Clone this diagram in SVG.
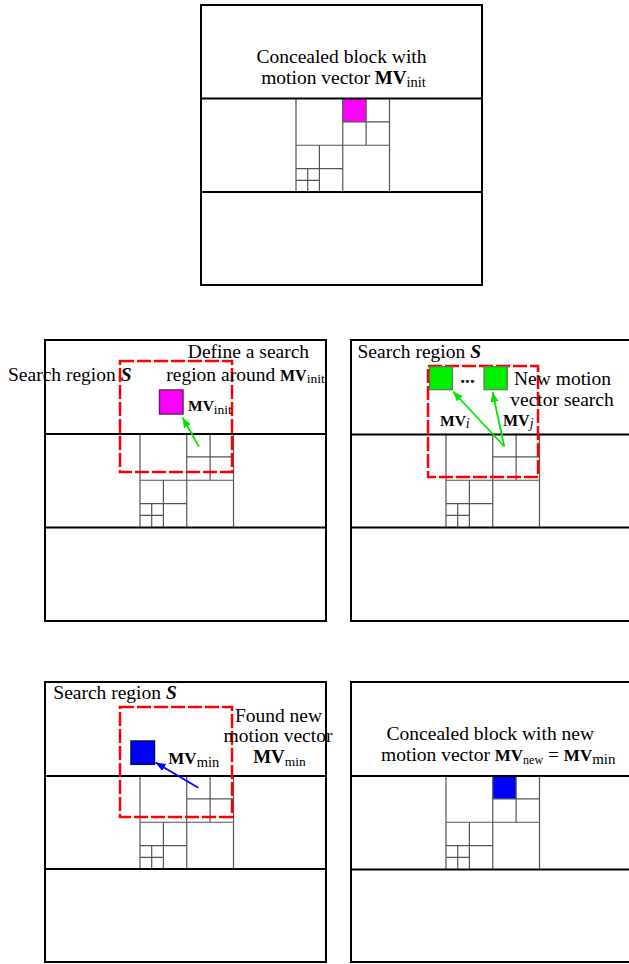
<svg xmlns="http://www.w3.org/2000/svg" xmlns:xlink="http://www.w3.org/1999/xlink" width="629" height="964" viewBox="0 0 629 964">
<style>
.panel{fill:#fff;stroke:#000;stroke-width:2}
.div{stroke:#000;stroke-width:2}
.grid{fill:none;stroke:#555;stroke-width:1.2}
.search{fill:none;stroke:#ff0000;stroke-width:2.5;stroke-dasharray:14 3}
.t{font-family:"Liberation Serif","Times New Roman",serif;font-size:19.5px;fill:#000}
.b{font-weight:bold}
.bi{font-weight:bold;font-style:italic}
.garrow{stroke:#00e600;stroke-width:1.8;fill:none}
.barrow{stroke:#0000ff;stroke-width:1.8;fill:none}
</style>
<defs>
<marker id="ahG" markerUnits="userSpaceOnUse" markerWidth="11" markerHeight="9" refX="10" refY="4" orient="auto">
<path d="M0,0 L10,4 L0,8 z" fill="#00e600"/>
</marker>
<marker id="ahB" markerUnits="userSpaceOnUse" markerWidth="11" markerHeight="9" refX="10" refY="4" orient="auto">
<path d="M0,0 L10,4 L0,8 z" fill="#0000ff"/>
</marker>
<path id="grid" class="grid" d="M0,0 V93.5 M93.5,0 V93.5 M46.75,0 V93.5 M0,46.75 H93.5 M70.1,0 V46.75 M46.75,23.4 H93.5 M23.4,46.75 V93.5 M0,70.1 H46.75 M11.7,70.1 V93.5 M0,81.8 H23.4"/>
</defs>

<!-- Top panel -->
<g id="panel-top">
<rect class="panel" x="201" y="5" width="281" height="280"/>
<rect x="342.75" y="98.5" width="23.4" height="23.4" fill="#ff00ff"/>
<use xlink:href="#grid" x="296" y="98.5"/>
<line class="div" x1="201" y1="98.5" x2="482" y2="98.5"/>
<line class="div" x1="201" y1="192" x2="482" y2="192"/>
<text class="t" text-anchor="middle"><tspan x="341.5" y="63">Concealed block with</tspan><tspan x="343.5" y="84">motion vector <tspan class="b" font-size="19">MV</tspan><tspan font-size="14.5" dy="3">init</tspan></tspan></text>
</g>

<!-- Middle-left panel -->
<g id="panel-ml">
<rect class="panel" x="45" y="340" width="281" height="281"/>
<use xlink:href="#grid" x="140" y="433.5"/>
<line class="div" x1="45" y1="434" x2="326" y2="434"/>
<line class="div" x1="45" y1="527.5" x2="326" y2="527.5"/>
<rect class="search" x="120" y="361" width="112" height="111"/>
<rect x="159.5" y="390" width="23.5" height="24" fill="#ff00ff" stroke="#6a1f6a" stroke-width="1.5"/>
<text class="t" x="8" y="381">Search region <tspan class="bi">S</tspan></text>
<text class="t" text-anchor="middle"><tspan x="248.5" y="357.7">Define a search</tspan><tspan x="245.5" y="380.7">region around <tspan class="b" font-size="16">MV</tspan><tspan font-size="13.5" dy="2.5">init</tspan></tspan></text>
<text class="t" x="188" y="411"><tspan class="b" font-size="15.5">MV</tspan><tspan font-size="13.5" dy="2.5">init</tspan></text>
</g>

<!-- Middle-right panel -->
<g id="panel-mr">
<rect class="panel" x="351" y="340" width="290" height="281"/>
<use xlink:href="#grid" x="446" y="433.5"/>
<line class="div" x1="351" y1="434.5" x2="641" y2="434.5"/>
<line class="div" x1="351" y1="527.5" x2="641" y2="527.5"/>
<rect class="search" x="428" y="366" width="110" height="111"/>
<rect x="429.5" y="366.7" width="23" height="23" fill="#00f000" stroke="#5a7a5a" stroke-width="1.2"/>
<rect x="484" y="366.7" width="23.3" height="23" fill="#00f000" stroke="#5a7a5a" stroke-width="1.2"/>
<text class="t b" x="467.5" y="382.5" text-anchor="middle" font-size="12">...</text>
<text class="t" x="357.5" y="357.7">Search region <tspan class="bi">S</tspan></text>
<text class="t" text-anchor="middle"><tspan x="562.5" y="385">New motion</tspan><tspan x="562" y="406">vector search</tspan></text>
<text class="t" x="440" y="425.7"><tspan class="b" font-size="15.5">MV</tspan><tspan font-size="14" font-style="italic" dy="2.5">i</tspan></text>
<text class="t" x="503" y="425.7"><tspan class="b" font-size="16">MV</tspan><tspan font-size="14" font-style="italic" dy="2.5">j</tspan></text>
</g>

<!-- Bottom-left panel -->
<g id="panel-bl">
<rect class="panel" x="45" y="682" width="281" height="280"/>
<use xlink:href="#grid" x="140" y="775.5"/>
<line class="div" x1="45" y1="776" x2="326" y2="776"/>
<line class="div" x1="45" y1="869" x2="326" y2="869"/>
<rect class="search" x="120" y="707" width="112" height="110"/>
<rect x="131" y="741" width="23.5" height="23.3" fill="#0000ff" stroke="#00105a" stroke-width="1.5"/>
<text class="t" x="53.3" y="699">Search region <tspan class="bi">S</tspan></text>
<text class="t" x="168.3" y="764.3"><tspan class="b" font-size="17">MV</tspan><tspan font-size="14.5" dy="2.5">min</tspan></text>
<text class="t" text-anchor="middle"><tspan x="278.5" y="721.7">Found new</tspan><tspan x="278" y="741.7">motion vector</tspan><tspan x="279.5" y="763.3"><tspan class="b" font-size="19">MV</tspan><tspan font-size="13.5" dy="2.5">min</tspan></tspan></text>
</g>

<!-- Bottom-right panel -->
<g id="panel-br">
<rect class="panel" x="351" y="682" width="290" height="280"/>
<rect x="492.75" y="775.5" width="23.4" height="23.4" fill="#0000ff"/>
<use xlink:href="#grid" x="446" y="775.5"/>
<line class="div" x1="351" y1="776" x2="641" y2="776"/>
<line class="div" x1="351" y1="869.5" x2="641" y2="869.5"/>
<text class="t" text-anchor="middle"><tspan x="490.3" y="740">Concealed block with new</tspan><tspan x="498.3" y="761">motion vector <tspan class="b" font-size="17">MV</tspan><tspan font-size="12" dy="2.5">new</tspan><tspan dy="-2.5"> = </tspan><tspan class="b" font-size="17">MV</tspan><tspan font-size="15" dy="2.5">min</tspan></tspan></text>
</g>

<!-- Connectors -->
<g id="connectors">
<line class="garrow" x1="199" y1="446.7" x2="182.5" y2="417.5" marker-end="url(#ahG)"/>
<line class="garrow" x1="504.3" y1="446.5" x2="453" y2="391.5" marker-end="url(#ahG)"/>
<line class="garrow" x1="504.3" y1="446.5" x2="492.5" y2="392" marker-end="url(#ahG)"/>
<line class="barrow" x1="198.3" y1="787.7" x2="155.5" y2="762.5" marker-end="url(#ahB)"/>
</g>
</svg>
